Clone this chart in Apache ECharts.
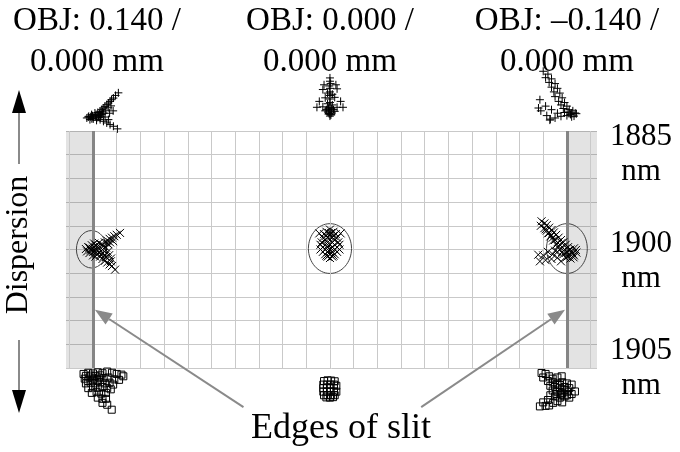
<!DOCTYPE html>
<html>
<head>
<meta charset="utf-8">
<script src="https://cdn.jsdelivr.net/npm/echarts@6/dist/echarts.min.js"></script>
<style>html,body{margin:0;padding:0;background:#fff;}#c{width:680px;height:452px;}</style>
</head>
<body>
<div id="c"></div>
<script>
// ---- data (positions in µm in the image plane; 1 grid cell = 10 µm) ----
const fieldLabels = ['OBJ: 0.140 /\n0.000 mm', 'OBJ: 0.000 /\n0.000 mm', 'OBJ: \u20130.140 /\n0.000 mm'];
const wavelengthLabels = ['1885\nnm', '1900\nnm', '1905\nnm'];
const slitEdges = [-100, 100];
const fieldExtent = [-111.4, 112.7];
const gridXTicks = [-110,-100,-90,-80,-70,-60,-50,-40,-30,-20,-10,0,10,20,30,40,50,60,70,80,90,100,110];
// Airy disks: [cx, cy, rx, ry]
const airyDisks = [[-100.6, 0.1, 6.4, 7.9], [0, 0.4, 9.1, 10.5], [100, 0.4, 8.6, 10.5]];
// 1885 nm (+)
const topLeft = [[-89.3,66.1],[-90.5,65],[-91.4,63.9],[-92.2,63.2],[-92.8,62.5],[-93.5,61.8],[-94.2,61.1],[-95,60.4],[-95.7,59.7],[-96.3,59],[-97,58.3],[-98,57.8],[-99.2,57.6],[-100.6,56.9],[-101.8,56.2],[-102.6,55.5],[-101.3,54.8],[-99.9,55.1],[-98.4,55.5],[-97,54.8],[-95.6,54.1],[-94.2,53.4],[-92.8,52.7],[-91.4,52],[-89.7,50.9],[-94.9,55.9],[-96.3,56.9],[-97.7,56.5],[-93.5,54.8],[-101,56],[-100,55.8],[-99,56.3],[-100.5,55.2],[-98.5,54.5],[-97.5,55.8],[-96.8,56],[-95.5,57.5],[-93,57.5],[-91.5,58.5],[-102,55.9],[-100.2,56.4],[-98.8,56.9],[-97.2,57.2],[-96,58.1],[-94.6,58.8],[-93.6,59.8],[-92.4,60.6]];
const topCenter = [[0,72.4],[0,71],[0.3,70],[-0.3,69],[-2.5,69.5],[2.5,69.5],[-3,67.5],[3,67.8],[0,68],[0,66.5],[-1,66],[1,65.5],[0,65],[-2,64],[2,64.2],[0,63.5],[-4.5,62.5],[4.5,62.5],[0,62],[-1,61.5],[1,61],[-5.5,60],[5.5,60],[-3,60.2],[3,60],[0,60],[-1.5,59],[1.5,59],[0,58.5],[-0.8,58],[0.8,57.6],[0,57],[0,56.3],[-2,58.5],[2,58.3],[-0.6,59.6],[0.6,59.3],[-0.4,57.4],[0.4,56.8]];
const topRight = [[90,75.2],[92,74],[91,72.5],[93.5,72],[92.5,70.5],[95,70],[93.5,68.5],[96,68],[94.5,66.5],[97,66],[95,64.5],[98,64],[96.5,62.5],[99,62],[97.5,61],[100,60.5],[98.5,59.5],[101,59],[102.5,58.5],[103.5,57.6],[101.5,57],[100,56.5],[99,57.8],[97.5,56.2],[96,57.5],[95,55.5],[93,55],[92.8,54.6],[91.5,56.5],[89,58.5],[88,59.7],[88.6,63.2],[91,60.5],[93.5,59],[102,56],[104,57.3],[103,56.3],[100.5,58],[102,57.5]];
// 1900 nm (×)
const midLeft = [[-101,0],[-102,1],[-100,-1],[-99,0.5],[-100.5,1.8],[-98,-0.5],[-101.5,-1.5],[-99.5,2.5],[-97,1],[-98.5,-2],[-103,0.2],[-96,0],[-97.5,2.8],[-95.5,1.5],[-95,3],[-94,3.8],[-93,4.5],[-92,5],[-91,5.6],[-90,6.2],[-88.6,7],[-93.5,2.2],[-91.5,3.5],[-97,-3],[-96,-4],[-95,-4.8],[-94,-5.5],[-93,-6.3],[-92,-7],[-90.7,-8.5],[-94.5,-3.2],[-92.5,-5],[-99,-3],[-100,-2.5],[-101.5,0.8],[-100.2,0.3],[-99.2,-0.7],[-98.2,1.2],[-97.2,-1.2],[-96.5,2.2],[-96.8,-2.2],[-98.8,1.8],[-100.8,-0.4],[-102.5,-0.8],[-95.8,-1.5],[-94.5,0.8],[-93.8,-1],[-95.2,-2.6],[-94,2.6],[-92.8,3],[-92.4,-3.8],[-93.2,-2.4]];
const midCenter = [[0,8.4],[-1.5,7.5],[1.5,7.5],[-2.5,6.5],[2.5,6.5],[0,6],[-3,5],[3,5],[-1,5],[1,5],[-2,4],[2,4],[0,4],[-3.5,3],[3.5,3],[-1,3],[1,3],[-4,2],[4,2],[-2,2],[2,2],[0,2],[-3,1],[3,1],[-1,1],[1,1],[-4,0],[4,0],[-2,0],[2,0],[0,0],[-3,-1],[3,-1],[-1,-1],[1,-1],[-2,-2],[2,-2],[0,-2],[-1,-3],[1,-3],[0,-3.6],[-4.5,6.8],[4.5,6.8],[-0.5,7],[0.5,7],[-1.5,5.8],[1.5,5.8],[-0.5,4.5],[0.5,3.5],[-0.5,1.5],[0.5,0.5],[-0.5,-0.5],[0.5,-1.5],[-1.5,-2.6],[1.5,-2.6]];
const midRight = [[89.3,11.9],[90.5,11],[89,10],[91.5,10.3],[90.5,9],[92.5,9.2],[91.5,8],[93.5,8.2],[92.5,7],[94.5,7.2],[93.5,6],[95.5,6.2],[94,5],[96.5,5],[95,4],[97.5,4],[96,3],[98.5,3],[97,2],[99.5,2],[98,1],[100.5,1],[99,0],[101.5,0],[103,0.5],[100,-1],[102,-1],[104,-1.3],[98.5,-2],[101,-2.5],[103,-2.5],[99.5,-3.5],[101.5,-3.8],[96,-1],[94,-2],[92,-1],[90,-2.5],[87.9,-2.2],[88.6,-5],[91,-4.5],[93.5,-4],[96,-3.5],[97.5,-5],[95,-0.5],[99.5,-1.5],[100.8,-0.3],[102.5,-1.8],[100.2,-3],[98,-1],[97,0],[96.5,1.5],[97.8,2.8],[95.5,2],[94.2,3.8],[93,5.5],[92,6.8],[91,8.5],[103.8,-0.2],[102.8,-3.3]];
// 1905 nm (□)
const botLeft = [[-104,-52.5],[-102,-52],[-100,-52.3],[-98,-51.8],[-96,-52.2],[-94,-51.5],[-92,-52],[-90,-52.5],[-88,-52.8],[-87.2,-53.5],[-103.5,-54.5],[-101.5,-54],[-99.5,-54.5],[-97.5,-54],[-95.5,-54.3],[-93.5,-54],[-91,-54.8],[-89,-55],[-103,-56.5],[-101,-56.2],[-99,-56.5],[-97,-56],[-95,-56.5],[-93,-56.2],[-91.5,-57],[-102,-58.5],[-100,-58.2],[-98,-58.5],[-96,-58],[-94,-58.5],[-92.5,-59],[-100.5,-60.5],[-98.5,-60.2],[-96.5,-60.8],[-94.5,-60.5],[-98,-62.5],[-96,-63],[-94.5,-63],[-96,-64.7],[-94,-65.5],[-92.1,-67.6],[-103,-53.3],[-101,-53.2],[-99,-53.3],[-97,-53.1],[-102.2,-55.4],[-100.2,-55.3],[-98.2,-55.2]];
const botCenter = [[-2.5,-55.5],[-1,-55.2],[0.5,-55.3],[2,-55.6],[-2.8,-57],[-1.3,-57],[0.2,-57],[1.7,-57],[2.7,-57.5],[-2.8,-58.5],[-1.3,-58.5],[0.2,-58.5],[1.7,-58.5],[-2.8,-60],[-1.3,-60],[0.2,-60],[1.7,-60],[2.7,-60],[-2.5,-61.5],[-1,-61.5],[0.5,-61.5],[2,-61.5],[-1.5,-62.4],[0,-62.5],[1.3,-62.3]];
const botRight = [[89.3,-52.1],[91,-52.5],[90,-54],[92.5,-53.5],[94,-54.5],[96,-54],[97.8,-53.5],[92,-55.5],[94,-56],[96,-56.5],[98,-56],[100,-56.5],[102,-57],[93,-57.5],[95,-58],[97,-58.5],[99,-58],[101,-58.5],[103.4,-59.9],[94,-59.5],[96,-60],[98,-60.5],[100,-60],[102,-61],[93,-61.5],[95,-62],[97,-62.5],[99,-62],[101,-62.5],[92,-63.5],[94.2,-64.7],[96,-64],[98,-64.5],[90,-64.5],[88.6,-66.2],[91,-66],[92.5,-65.8],[95,-57],[97,-57.2],[99,-59.2],[97.5,-61.2],[95.5,-61],[100,-61.5]];
// "Edges of slit" annotation arrows: [x0, y0, xTip, yTip]
const slitArrows = [[-36.5, -66.5, -99.2, -25.4], [38.5, -66.5, 99.2, -25.4]];

// ---- chart ----
const FONT = '"Liberation Serif", "DejaVu Serif", serif';
const plus = 'path://M0,5L10,5M5,0L5,10';
const cross = 'path://M0,0L10,10M10,0L0,10';
const marker = (sym, size) => ({
  type: 'scatter', symbol: sym, symbolSize: size, clip: false, silent: true,
  itemStyle: { color: 'none', borderColor: '#000', borderWidth: 1, opacity: 1 },
  emphasis: { disabled: true }, z: 5
});
const titleX = [97, 330, 567];

const chart = echarts.init(document.getElementById('c'));
chart.setOption({
  animation: false,
  backgroundColor: '#fff',
  grid: { left: 66, right: 83, top: 131, bottom: 84 },
  xAxis: { type: 'value', min: fieldExtent[0], max: fieldExtent[1],
    axisLine: { show: false }, axisTick: { show: false }, axisLabel: { show: false }, splitLine: { show: false } },
  yAxis: { type: 'value', min: -50, max: 50, interval: 10,
    axisLine: { show: false }, axisTick: { show: false }, axisLabel: { show: false },
    splitLine: { show: true, lineStyle: { color: '#c9c9c9', width: 1 } } },
  graphic: [
    ...fieldLabels.map((t, i) => ({ type: 'text', silent: true, x: titleX[i], y: 1,
      style: { text: t, font: '33px ' + FONT, fill: '#000', align: 'center', verticalAlign: 'top', lineHeight: 41 } })),
    ...wavelengthLabels.map((t, i) => ({ type: 'text', silent: true,
      x: 641, y: [154, 261, 368][i],
      style: { text: t, font: '31px ' + FONT, fill: '#000', align: 'center', verticalAlign: 'middle', lineHeight: 35 } })),
    { type: 'text', silent: true, x: 19, y: 245, rotation: Math.PI / 2,
      style: { text: 'Dispersion', font: '32px ' + FONT, fill: '#000', align: 'center', verticalAlign: 'middle' } },
    { type: 'line', silent: true, shape: { x1: 19, y1: 110, x2: 19, y2: 164 }, style: { stroke: '#8a8a8a', lineWidth: 2 } },
    { type: 'polygon', silent: true, shape: { points: [[12, 113], [26, 113], [19, 90]] }, style: { fill: '#000' } },
    { type: 'line', silent: true, shape: { x1: 19, y1: 340, x2: 19, y2: 392 }, style: { stroke: '#8a8a8a', lineWidth: 2 } },
    { type: 'polygon', silent: true, shape: { points: [[12, 390], [26, 390], [19, 413]] }, style: { fill: '#000' } },
    { type: 'text', silent: true, x: 341, y: 429,
      style: { text: 'Edges of slit', font: '36px ' + FONT, fill: '#000', align: 'center', verticalAlign: 'middle' } }
  ],
  series: [
    {
      type: 'scatter', data: [], clip: false, silent: true, z: 1,
      markArea: { silent: true, itemStyle: { color: 'rgba(0,0,0,0.11)' },
        data: [[{ xAxis: fieldExtent[0] }, { xAxis: slitEdges[0] }], [{ xAxis: slitEdges[1] }, { xAxis: fieldExtent[1] }]] },
      markLine: { silent: true, symbol: 'none', label: { show: false },
        lineStyle: { color: '#c9c9c9', width: 1, type: 'solid' },
        data: gridXTicks.map(v => ({ xAxis: v })) }
    },
    { type: 'scatter', data: [], clip: false, silent: true, z: 3,
      markLine: { silent: true, symbol: 'none', label: { show: false },
        lineStyle: { color: '#858585', width: 3, type: 'solid' },
        data: slitEdges.map(v => ({ xAxis: v })) }
    },
    { type: 'custom', clip: false, silent: true, z: 6, data: slitArrows,
      encode: { x: [0, 2], y: [1, 3] },
      renderItem: (params, api) => {
        const a = api.coord([api.value(0), api.value(1)]);
        const b = api.coord([api.value(2), api.value(3)]);
        const dx = b[0] - a[0], dy = b[1] - a[1];
        const L = Math.sqrt(dx * dx + dy * dy), ux = dx / L, uy = dy / L;
        const hl = 17, hw = 6.5;
        const bx = b[0] - ux * hl, by = b[1] - uy * hl;
        return { type: 'group', children: [
          { type: 'line', shape: { x1: a[0], y1: a[1], x2: bx, y2: by }, style: { stroke: '#8a8a8a', lineWidth: 2 } },
          { type: 'polygon', shape: { points: [[b[0], b[1]], [bx - uy * hw, by + ux * hw], [bx + uy * hw, by - ux * hw]] }, style: { fill: '#8a8a8a' } }
        ] };
      }
    },
    { type: 'custom', clip: false, silent: true, z: 4, data: airyDisks,
      encode: { x: 0, y: 1 },
      renderItem: (params, api) => {
        const c = api.coord([api.value(0), api.value(1)]);
        const s = api.size([api.value(2), api.value(3)]);
        return { type: 'ellipse', shape: { cx: c[0], cy: c[1], rx: s[0], ry: s[1] },
          style: { fill: 'none', stroke: '#444', lineWidth: 1 } };
      }
    },
    Object.assign(marker(plus, 8), { data: topLeft }),
    Object.assign(marker(plus, 8), { data: topCenter }),
    Object.assign(marker(plus, 8), { data: topRight }),
    Object.assign(marker(cross, 8), { data: midLeft }),
    Object.assign(marker(cross, 8), { data: midCenter }),
    Object.assign(marker(cross, 8), { data: midRight }),
    Object.assign(marker('rect', 7), { data: botLeft }),
    Object.assign(marker('rect', 7), { data: botCenter }),
    Object.assign(marker('rect', 7), { data: botRight })
  ]
});
</script>
</body>
</html>
